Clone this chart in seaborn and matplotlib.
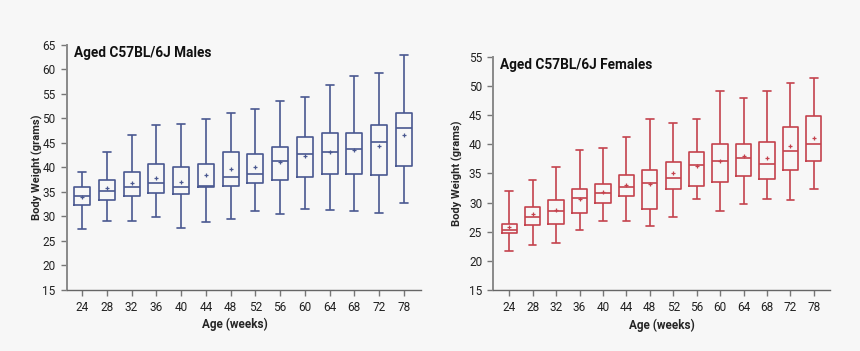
import numpy as np
import pandas as pd
import seaborn as sns
import matplotlib.pyplot as plt

weeks = ["24", "28", "32", "36", "40", "44", "48", "52", "56", "60", "64", "68", "72", "78"]

# males: whisker low, Q1, median, Q3, whisker high, mean
male_lo = [27.4, 29.1, 29.1, 29.8, 27.6, 28.9, 29.5, 31.1, 30.4, 31.5, 31.3, 31.1, 30.7, 32.7]
male_q1 = [32.3, 33.4, 34.1, 34.8, 34.6, 36.0, 36.3, 36.9, 37.5, 38.0, 38.6, 38.7, 38.4, 40.3]
male_med = [34.2, 35.1, 36.1, 36.8, 36.0, 36.3, 38.0, 38.7, 41.4, 42.8, 43.2, 43.8, 45.2, 48.0]
male_q3 = [36.1, 37.5, 39.1, 40.8, 40.1, 40.7, 43.1, 42.7, 44.1, 46.2, 47.0, 47.1, 48.6, 51.2]
male_hi = [39.0, 43.1, 46.7, 48.7, 48.9, 49.9, 51.2, 52.0, 53.5, 54.4, 56.9, 58.6, 59.2, 63.0]
male_mean = [34.0, 35.7, 36.8, 37.9, 37.1, 38.4, 39.6, 40.1, 41.2, 42.3, 43.2, 43.5, 44.4, 46.7]

# females
fem_lo = [21.8, 22.8, 23.1, 25.3, 26.8, 26.9, 26.0, 27.6, 30.6, 28.5, 29.7, 30.6, 30.4, 32.3]
fem_q1 = [24.8, 26.1, 26.4, 28.3, 30.0, 31.1, 29.0, 32.4, 32.9, 33.5, 34.5, 34.0, 35.6, 37.2]
fem_med = [25.4, 27.5, 28.5, 30.8, 31.6, 32.6, 33.3, 34.2, 36.4, 37.1, 37.7, 36.7, 38.8, 40.1]
fem_q3 = [26.3, 29.2, 30.5, 32.3, 33.2, 34.8, 35.6, 36.9, 38.6, 40.0, 40.0, 40.4, 43.0, 44.8]
fem_hi = [32.0, 33.9, 36.1, 39.0, 39.3, 41.2, 44.4, 43.7, 44.4, 49.2, 48.0, 49.1, 50.5, 51.4]
fem_mean = [25.9, 28.0, 28.8, 30.7, 31.9, 33.1, 33.2, 35.1, 36.3, 37.2, 38.0, 37.6, 39.7, 41.0]

sns.set_theme(style="ticks")
plt.rcParams['font.family'] = ['Roboto', 'DejaVu Sans']
bg = '#f7f7f7'


def five_number_frame(lo, q1, med, q3, hi):
    # five points per week reproduce the quartiles exactly with whis=(0, 100)
    rows = []
    for w, vals in zip(weeks, zip(lo, q1, med, q3, hi)):
        for v in vals:
            rows.append({'week': w, 'weight': v})
    return pd.DataFrame(rows)


def draw_panel(ax, stats, means, color, title, ylim, xlim, label_xy, ylabel_x):
    df = five_number_frame(*stats)
    sns.boxplot(data=df, x='week', y='weight', order=weeks, whis=(0, 100),
                fill=False, color=color, width=0.65, linewidth=1.2,
                showfliers=False, ax=ax)
    sns.pointplot(x=weeks, y=means, order=weeks, linestyle='none', markers='+',
                  color=color, markersize=2.5, markeredgewidth=0.9,
                  errorbar=None, ax=ax)
    ax.set_facecolor(bg)
    ax.set_xlim(*xlim)
    ax.set_ylim(*ylim)
    ax.set_yticks(np.arange(ylim[0], ylim[1] + 1, 5))
    ax.set_xlabel('Age (weeks)', fontsize=8.5, fontweight='bold')
    ax.set_ylabel('Body Weight (grams)', fontsize=8, fontweight='bold')
    ax.xaxis.set_label_coords(*label_xy)
    ax.yaxis.set_label_coords(ylabel_x, 0.5)
    ax.tick_params(axis='both', labelsize=8.5, length=4, width=1, color='#777777',
                   labelcolor='#222222', pad=4)
    sns.despine(ax=ax)
    ax.spines['left'].set_color('#8a8a8a')
    ax.spines['left'].set_linewidth(1.4)
    ax.spines['bottom'].set_color('#666666')
    ax.spines['bottom'].set_linewidth(1.0)
    ax.text(0.02, 0.995, title, transform=ax.transAxes, fontsize=9.8,
            fontweight='bold', color='#111111', va='top', ha='left')


fig = plt.figure(figsize=(8.6, 3.51), dpi=100)
fig.patch.set_facecolor(bg)

ax1 = fig.add_axes([0.0776, 0.174, 0.4116, 0.698])
draw_panel(ax1, (male_lo, male_q1, male_med, male_q3, male_hi), male_mean,
           '#4a5890', 'Aged C57BL/6J Males', (15, 65), (-0.62, 13.68),
           (0.474, -0.115), -0.068)

ax2 = fig.add_axes([0.5736, 0.173, 0.3915, 0.6655])
draw_panel(ax2, (fem_lo, fem_q1, fem_med, fem_q3, fem_hi), fem_mean,
           '#c4424d', 'Aged C57BL/6J Females', (15, 55), (-0.68, 13.69),
           (0.5, -0.12), -0.09)

fig.savefig('out.png', dpi=100, facecolor=bg)
